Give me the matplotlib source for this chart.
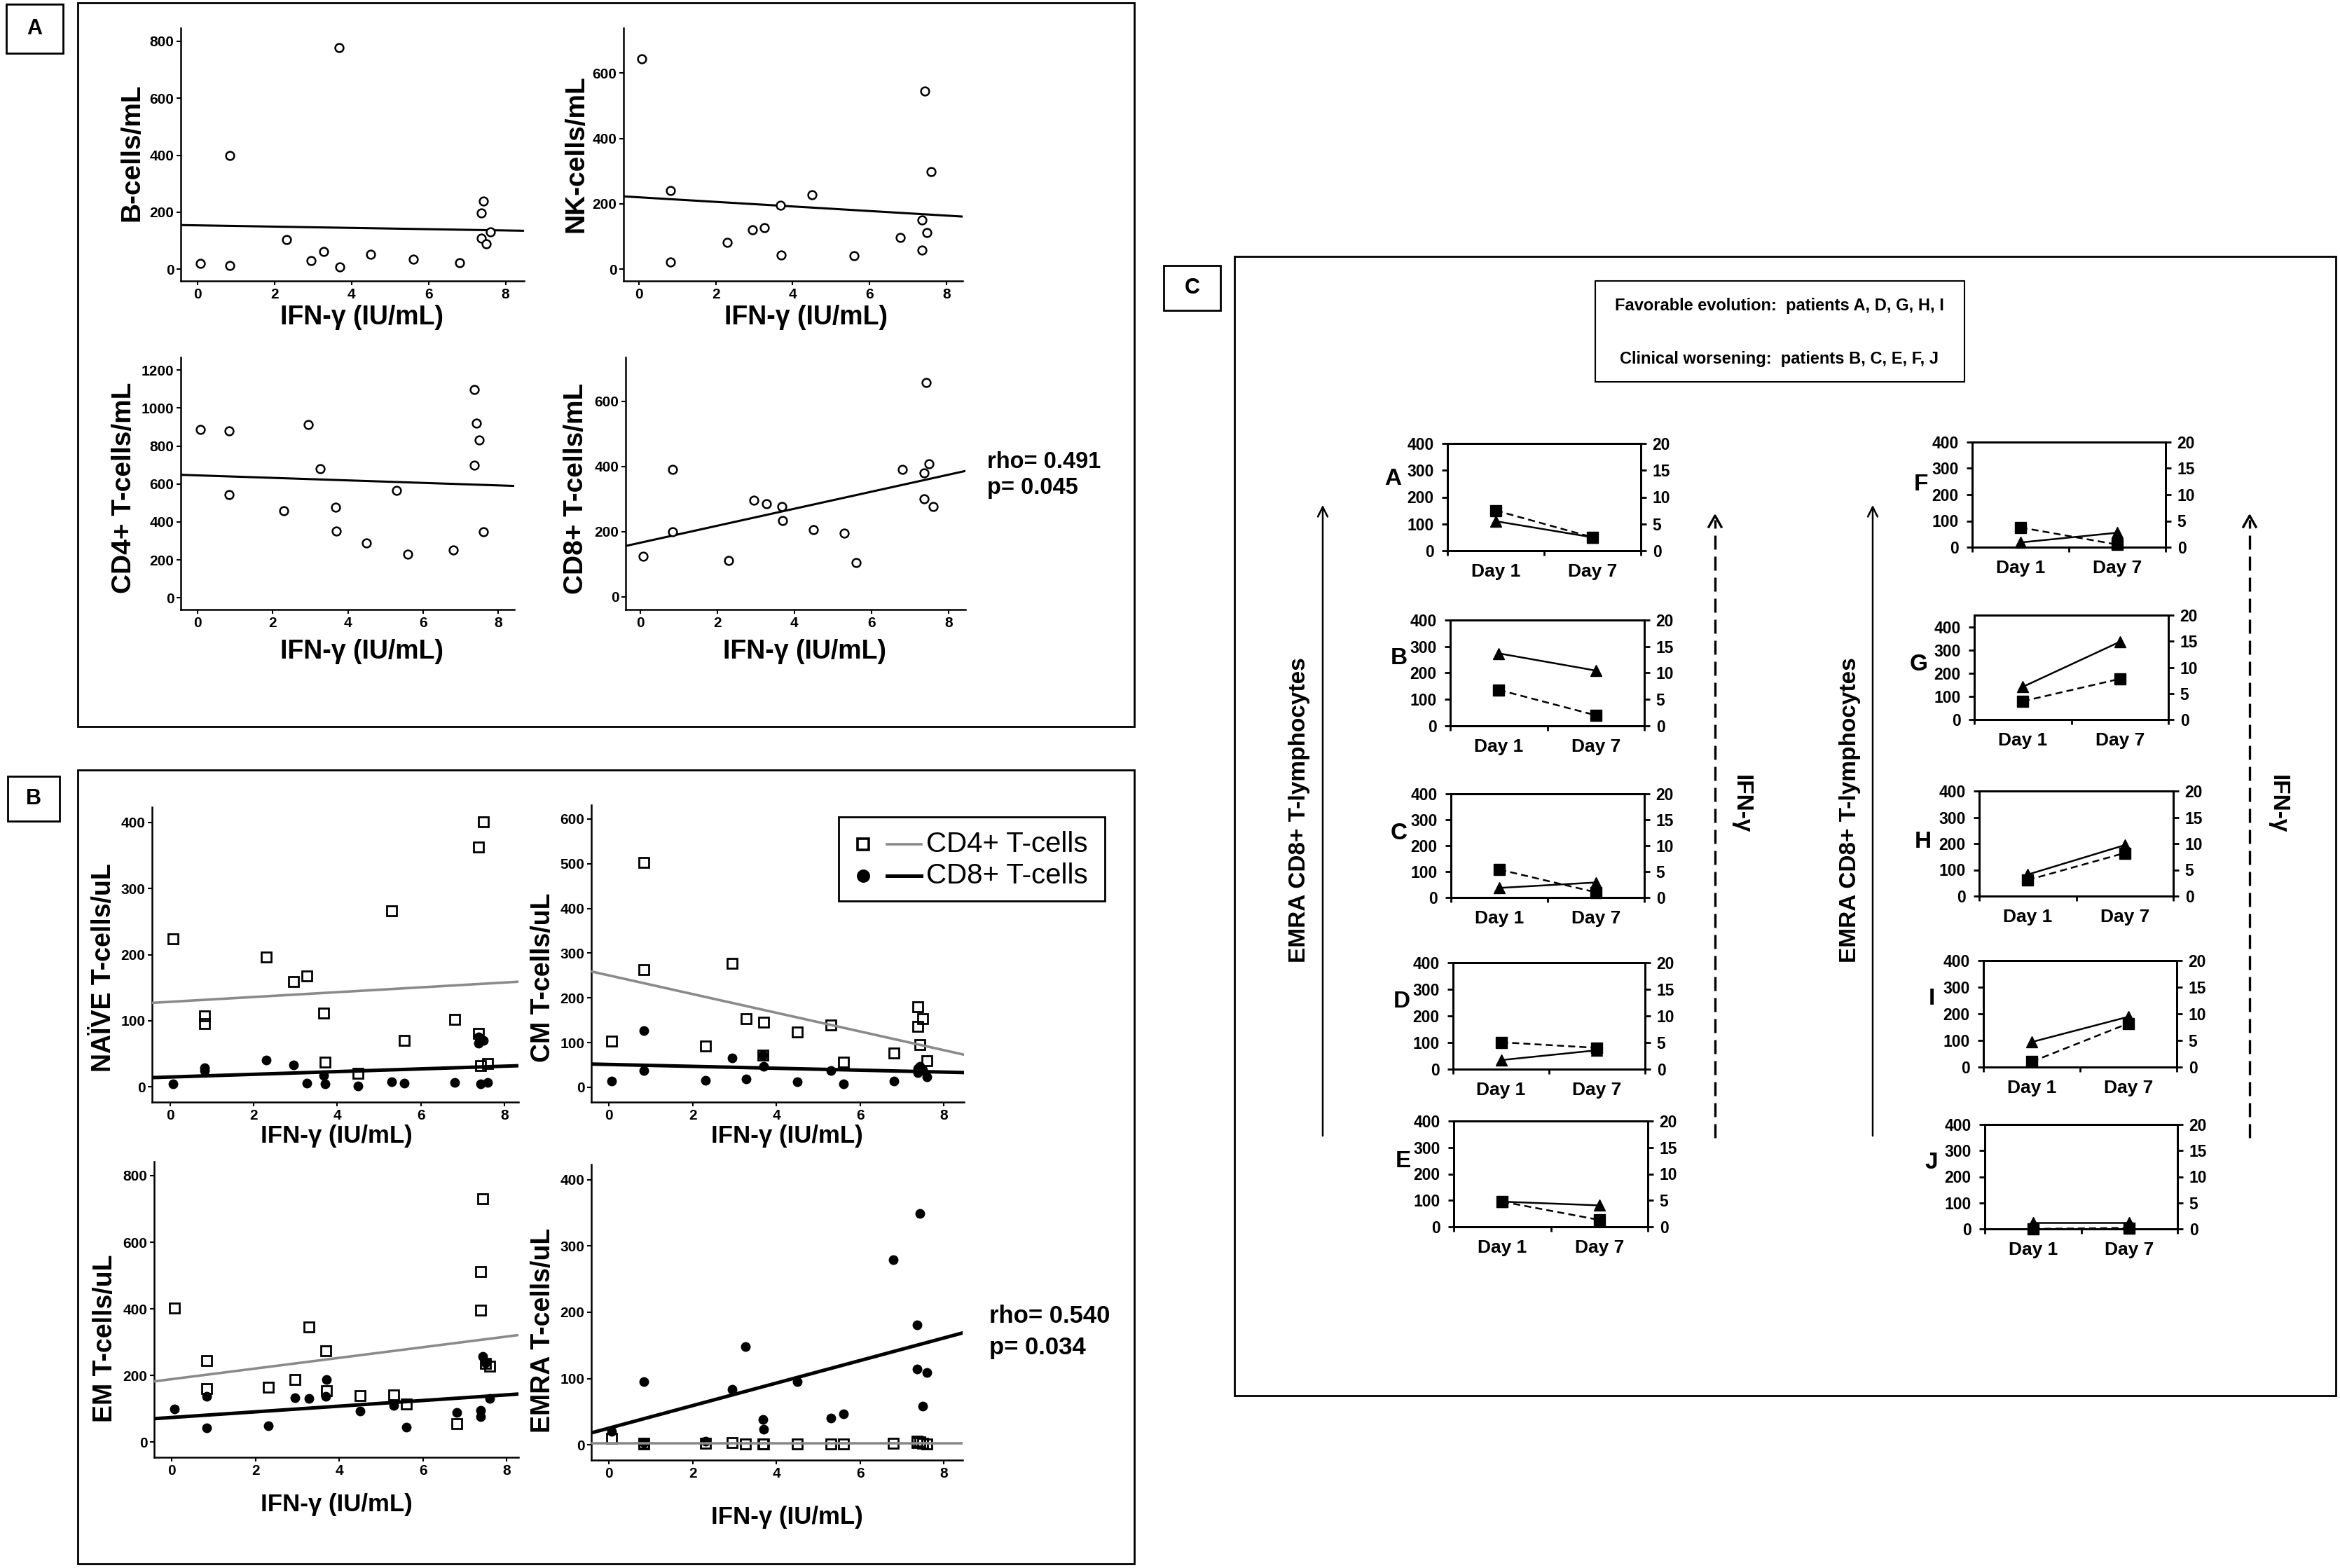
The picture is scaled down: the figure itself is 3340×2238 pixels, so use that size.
import numpy as np
import matplotlib.pyplot as plt
from matplotlib.patches import Rectangle, FancyArrowPatch
from matplotlib.lines import Line2D

W, H = 3340, 2238
plt.rcParams['font.family'] = ['Liberation Sans', 'DejaVu Sans']
plt.rcParams['font.weight'] = 'bold'

# ---------------- data ----------------
# IFN-gamma (IU/mL) per patient, shared x values for panels A and B
ifn = [0.07, 0.83, 0.83, 2.3, 2.95, 3.27, 3.68, 3.7, 4.5, 5.3, 5.6, 6.8,
       7.37, 7.37, 7.43, 7.49, 7.6]
nan = np.nan

# panel A (cells/mL)
b_cells = [20, 12, 399, 105, 30, 61, 777, 8, 53, nan, 36, 23, 198, 109, 239, 89, 130]
nk_cells = [643, 22, 240, 82, 121, 127, 196, 43, 227, nan, 42, 98, 150, 58, 544, 112, 298]
cd4_cells = [886, 881, 542, 458, 913, 680, 477, 351, 289, 564, 228, 252, 1098, 698, 920, 831, 346]
cd8_cells = [124, 392, 200, 112, 296, 286, 277, 235, 206, 196, 105, 392, 381, 301, 658, 408, 277]
# regression lines (intercept, slope)
fit_b = (154, -2.24)
fit_nk = (220, -7.0)
fit_cd4 = (645, -6.6)
fit_cd8 = (166, 26.1)

# panel B (T-cells/uL)
naive_cd4 = [224, 107, 96, 196, 159, 168, 112, 37, 20, 266, 70, 102, 363, 81, 32, 401, 35]
naive_cd8 = [5, 29, 25, 41, 33, 6, 17, 5, 1, 8, 6, 7, 76, 66, 5, 70, 7]
cm_cd4 = [103, 503, 263, 92, 277, 154, 72, 145, 123, 140, 56, 77, 180, 136, 96, 154, 60]
cm_cd8 = [14, 126, 38, 16, 66, 19, 72, 47, 13, 37, 7, 14, 33, 42, 47, 39, 24]
em_cd4 = [402, 244, 161, 165, 188, 346, 274, 154, 140, 142, 114, 56, 512, 395, 731, 235, 227]
em_cd8 = [100, 138, 42, 49, 133, 131, 137, 187, 93, 110, 44, 89, 96, 76, 256, 239, 131]
emra_cd4 = [10, 2, 1, 2, 3, 1, 1, 1, 1, 1, 1, 2, 6, 3, 4, 2, 1]
emra_cd8 = [20, 95, 3, 6, 84, 148, 38, 24, 95, 40, 47, 279, 181, 114, 349, 58, 109]
fit_naive = ((128.6, 3.65), (14.9, 2.05))
fit_cm = ((250.2, -20.9), (51.1, -2.13))
fit_em = ((188.7, 16.0), (73.6, 8.5))
fit_emra = ((2.0, 0.0), (25.2, 17.0))

# panel C: EMRA CD8+ (left axis) and IFN-gamma (right axis), day 1 vs day 7
patients = ['A', 'B', 'C', 'D', 'E', 'F', 'G', 'H', 'I', 'J']
emra_day1 = [110, 274, 37, 34, 95, 18, 141, 82, 94, 23]
emra_day7 = [50, 209, 58, 71, 81, 55, 335, 194, 189, 23]
ifn_day1 = [7.5, 6.8, 5.4, 5.05, 4.75, 3.75, 3.5, 3.06, 1.0, 0.0]
ifn_day7 = [2.5, 2.0, 1.0, 4.0, 1.3, 0.5, 7.8, 8.2, 8.2, 0.2]
days = ['Day 1', 'Day 7']

# ---------------- helpers ----------------
fig = plt.figure(figsize=(W / 100, H / 100), dpi=100, facecolor='white')


def px_axes(l, t, r, b):
    return fig.add_axes([l / W, 1 - b / H, (r - l) / W, (b - t) / H])


def px_text(x, y, s, **kw):
    kw.setdefault('ha', 'center')
    kw.setdefault('va', 'center')
    return fig.text(x / W, 1 - y / H, s, **kw)


def px_box(l, t, r, b, lw=2.0):
    fig.add_artist(Rectangle((l / W, 1 - b / H), (r - l) / W, (b - t) / H,
                             transform=fig.transFigure, fill=False, lw=lw, ec='black'))


def px_line(xs, ys, **kw):
    fig.add_artist(Line2D([x / W for x in xs], [1 - y / H for y in ys],
                          transform=fig.transFigure, **kw))


def spss_axes(ax, xlim, ylim, yticks):
    ax.set_xlim(xlim)
    ax.set_ylim(ylim)
    ax.set_xticks([0, 2, 4, 6, 8])
    ax.set_yticks(yticks)
    for s in ['top', 'right']:
        ax.spines[s].set_visible(False)
    for s in ['left', 'bottom']:
        ax.spines[s].set_linewidth(1.8)
    ax.tick_params(direction='out', length=4, width=1.5, labelsize=15, pad=3)
    ax.set_facecolor('none')


# ---------------- panel A ----------------
px_box(111, 4, 1619, 1037)
px_box(9, 6, 90, 76)
px_text(49, 41, 'A', fontsize=22)

panel_a = [
    ((258, 40, 748, 401), (-0.44, 8.48), (-41, 846), range(0, 801, 200), b_cells, fit_b,
     'B-cells/mL', (188, 218), (516, 453)),
    ((890, 40, 1374, 401), (-0.40, 8.42), (-36, 738), range(0, 601, 200), nk_cells, fit_nk,
     'NK-cells/mL', (822, 220), (1151, 453)),
    ((258, 510, 734, 870), (-0.45, 8.43), (-62, 1267), range(0, 1201, 200), cd4_cells, fit_cd4,
     'CD4+ T-cells/mL', (177, 696), (517, 930)),
    ((893, 510, 1378, 870), (-0.38, 8.44), (-39, 735), range(0, 601, 200), cd8_cells, fit_cd8,
     'CD8+ T-cells/mL', (822, 697), (1148, 930)),
]
for box, xlim, ylim, yt, vals, fit, ylab, ypos, xpos in panel_a:
    ax = px_axes(*box)
    spss_axes(ax, xlim, ylim, yt)
    xs = np.array(xlim)
    ax.plot(xs, fit[0] + fit[1] * xs, color='black', lw=2.2)
    ax.plot(ifn, vals, 'o', ms=8.5, mfc='white', mec='black', mew=1.8, ls='none')
    px_text(*ypos, ylab, rotation=90, fontsize=28)
    px_text(*xpos, 'IFN-γ (IU/mL)', fontsize=27)

px_text(1409, 659, 'rho= 0.491', fontsize=23.5, ha='left')
px_text(1409, 696, 'p= 0.045', fontsize=23.5, ha='left')

# ---------------- panel B ----------------
px_box(111, 1099, 1619, 2232)
px_box(11, 1108, 85, 1172)
px_text(48, 1140, 'B', fontsize=22)

panel_b = [
    ((217, 1152, 740, 1573), (-0.43, 8.33), (-23, 423), range(0, 401, 100), naive_cd4, naive_cd8,
     fit_naive, 'NAÏVE T-cells/uL', (148, 1381), (480, 1621)),
    ((844, 1149, 1376, 1573), (-0.42, 8.48), (-33, 631), range(0, 601, 100), cm_cd4, cm_cd8,
     fit_cm, 'CM T-cells/uL', (775, 1395), (1123, 1621)),
    ((220, 1658, 740, 2080), (-0.42, 8.28), (-46, 842), range(0, 801, 200), em_cd4, em_cd8,
     fit_em, 'EM T-cells/uL', (150, 1910), (480, 2148)),
    ((844, 1662, 1374, 2084), (-0.42, 8.45), (-23, 423), range(0, 401, 100), emra_cd4, emra_cd8,
     fit_emra, 'EMRA T-cells/uL', (775, 1899), (1123, 2166)),
]
for box, xlim, ylim, yt, v4, v8, fits, ylab, ypos, xpos in panel_b:
    ax = px_axes(*box)
    spss_axes(ax, xlim, ylim, yt)
    xs = np.array(xlim)
    ax.plot(ifn, v4, 's', ms=9.5, mfc='none', mec='black', mew=2.0, ls='none', zorder=2)
    ax.plot(ifn, v8, 'o', ms=9, color='black', ls='none', zorder=3)
    ax.plot(xs, fits[0][0] + fits[0][1] * xs, color='#8a8a8a', lw=2.6, zorder=4)
    ax.plot(xs, fits[1][0] + fits[1][1] * xs, color='black', lw=3.6, zorder=4)
    px_text(*ypos, ylab, rotation=90, fontsize=27)
    px_text(*xpos, 'IFN-γ (IU/mL)', fontsize=25)

px_text(1412, 1878, 'rho= 0.540', fontsize=25, ha='left')
px_text(1412, 1923, 'p= 0.034', fontsize=25, ha='left')

# legend of panel B
px_box(1197, 1166, 1577, 1286)
legend_rows = [(1205, 's', 'none', '#8a8a8a', 2.6, 'CD4+ T-cells'),
               (1250, 'o', 'black', 'black', 3.6, 'CD8+ T-cells')]
for y, mk, mfc, lc, lw, lab in legend_rows:
    px_line([1232], [y], marker=mk, ms=11, mfc=mfc, mec='black', mew=2.6, ls='none')
    px_line([1266, 1315], [y, y], color=lc, lw=lw)
    px_text(1322, y, lab, fontsize=29, fontweight='normal', ha='left')

# ---------------- panel C ----------------
px_box(1762, 366, 3334, 1992)
px_box(1661, 379, 1742, 443)
px_text(1702, 411, 'C', fontsize=22)

px_box(2277, 401, 2804, 545, lw=1.5)
px_text(2540, 436, 'Favorable evolution:  patients A, D, G, H, I', fontsize=17)
px_text(2540, 513, 'Clinical worsening:  patients B, C, E, F, J', fontsize=17)

c_boxes = [(2066, 633, 2342, 786), (2070, 885, 2347, 1036), (2071, 1133, 2347, 1281),
           (2074, 1374, 2348, 1526), (2075, 1600, 2352, 1751),
           (2815, 631, 3091, 781), (2818, 878, 3095, 1027), (2825, 1129, 3102, 1279),
           (2831, 1371, 3107, 1523), (2833, 1605, 3108, 1754)]
c_letters = [(1988, 684), (1997, 940), (1997, 1189), (2001, 1430), (2003, 1658),
             (2742, 692), (2739, 948), (2745, 1201), (2757, 1425), (2757, 1660)]
c_ytop = [400, 400, 400, 400, 400, 400, 450, 400, 400, 400]

for i, p in enumerate(patients):
    ax = px_axes(*c_boxes[i])
    ax2 = ax.twinx()
    ax.set_xlim(0, 2)
    ax.set_ylim(0, c_ytop[i])
    ax2.set_ylim(0, 20)
    ax.set_yticks(range(0, 401, 100))
    ax2.set_yticks(range(0, 21, 5))
    ax.set_xticks([0, 1, 2])
    ax.set_xticklabels([])
    ax.set_xticks([0.5, 1.5], minor=True)
    ax.set_xticklabels(days, minor=True, fontsize=19)
    ax.tick_params(axis='x', which='major', direction='out', length=5, width=2)
    ax.tick_params(axis='x', which='minor', length=0, pad=13)
    ax.tick_params(axis='y', direction='out', length=6, width=2, labelsize=16.5, pad=8)
    ax2.tick_params(axis='y', direction='out', length=6, width=2, labelsize=16.5, pad=6)
    for a in (ax, ax2):
        for s in a.spines.values():
            s.set_linewidth(2.0)
    ax.plot([0.5, 1.5], [emra_day1[i], emra_day7[i]], '-^', color='black', lw=1.8, ms=12,
            clip_on=False)
    ax2.plot([0.5, 1.5], [ifn_day1[i], ifn_day7[i]], '--s', color='black', lw=1.8, ms=11,
             dashes=(4, 2.4), clip_on=False)
    px_text(*c_letters[i], p, fontsize=24)

# arrows and side labels
for x_solid, x_text in [(1888, 1855), (2673, 2640)]:
    fig.add_artist(FancyArrowPatch(
        (x_solid / W, 1 - 1624 / H), (x_solid / W, 1 - 718 / H), transform=fig.transFigure,
        arrowstyle='->', mutation_scale=25, lw=1.8, color='black'))
    px_text(x_text, 1156, 'EMRA CD8+ T-lymphocytes', rotation=90, fontsize=24)

for x_dash, x_text in [(2448, 2485), (3211, 3251)]:
    px_line([x_dash, x_dash], [1624, 742], color='black', lw=2.4, dashes=(6, 3))
    px_line([x_dash - 9, x_dash, x_dash + 9], [752, 736, 752], color='black', lw=2.4)
    px_text(x_text, 1148, 'IFN-γ', rotation=-90, fontsize=24)

fig.savefig('out.png', dpi=100, facecolor='white')
